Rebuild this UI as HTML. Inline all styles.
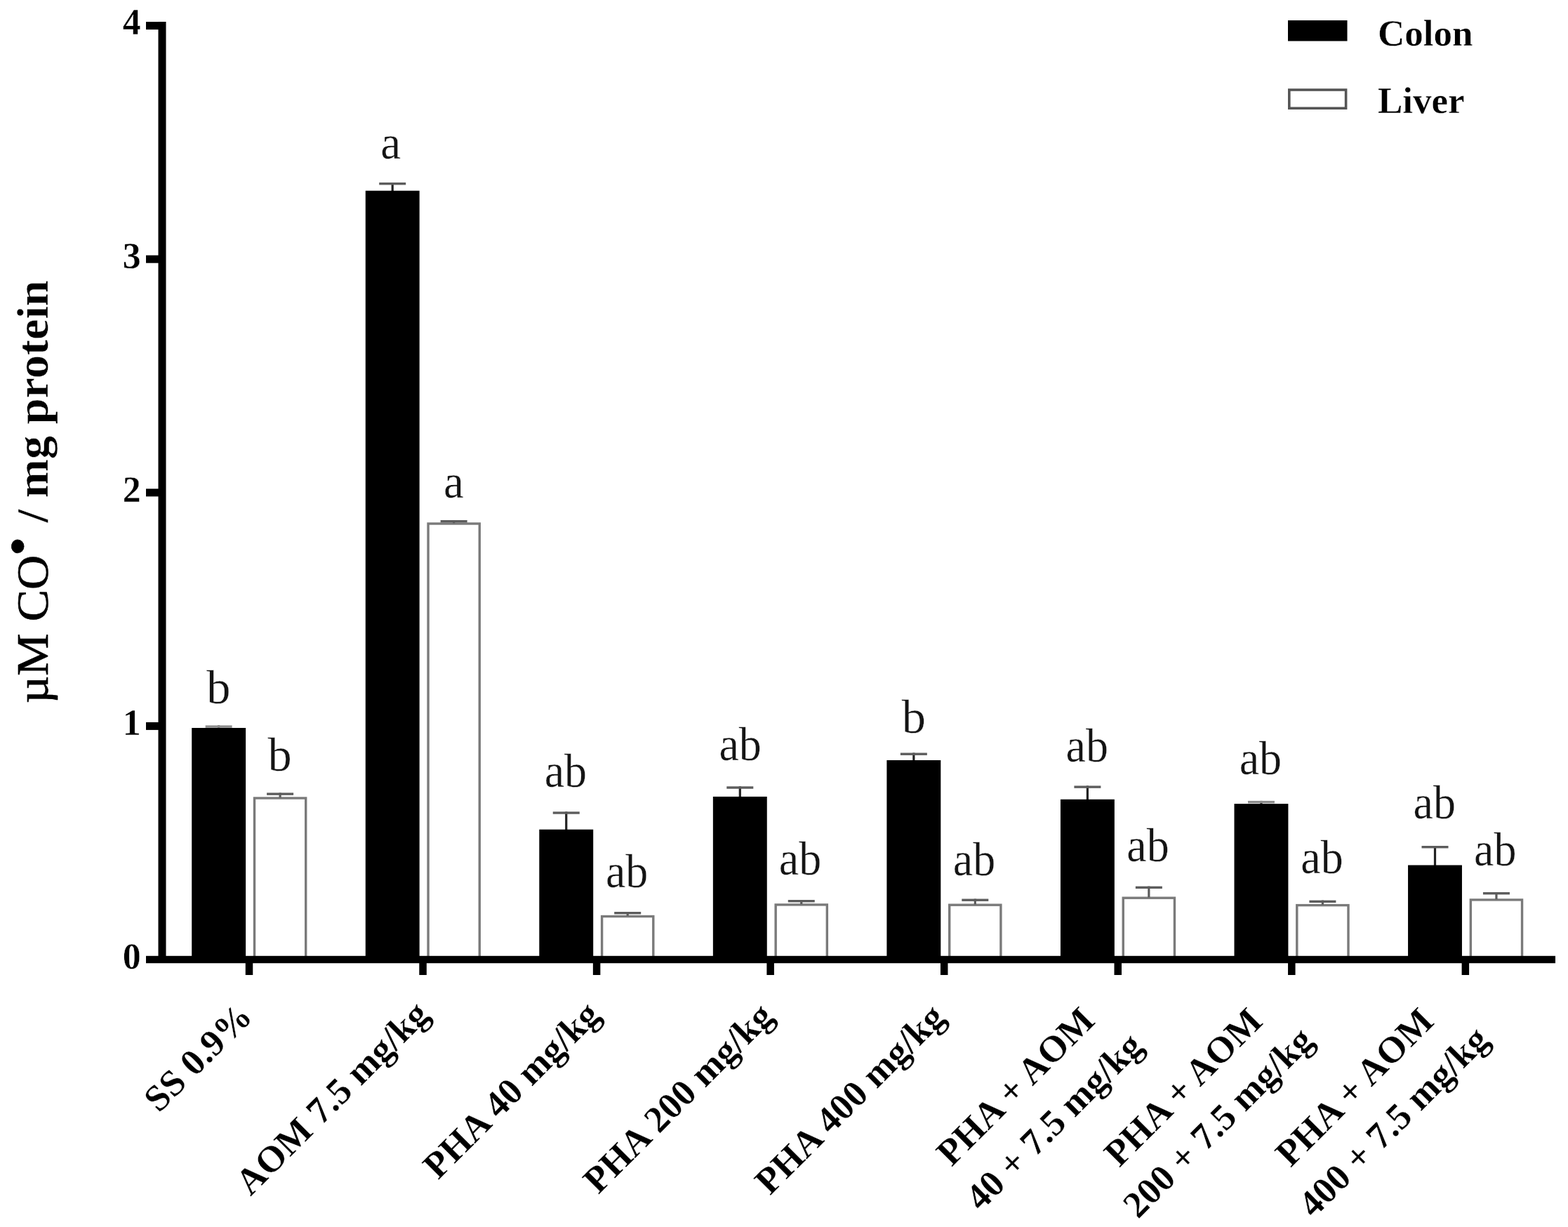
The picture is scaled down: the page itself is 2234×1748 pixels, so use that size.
<!DOCTYPE html>
<html lang="en"><head><meta charset="utf-8"><title>CO radical per mg protein - colon and liver</title>
<style>html,body{margin:0;padding:0;background:#fff;}body{width:2234px;height:1748px;}svg{display:block;}text{font-family:"Liberation Serif","DejaVu Serif",serif;fill:#000;stroke:#fff;stroke-width:0.4px;stroke-linejoin:round;}.n{font-weight:normal;stroke:#000;stroke-width:0.7px;}.b{font-weight:bold;}.t{font-size:53.0px;font-weight:bold;}.l{font-size:67.0px;fill:#141414;stroke-width:0.3px;}.g{font-size:53.0px;font-weight:bold;}.y{font-size:66.3px;font-weight:bold;}.x{font-size:53.0px;font-weight:bold;stroke-width:0.3px;}</style></head><body>
<svg width="2234" height="1748" viewBox="0 0 2234 1748" role="img" aria-label="Bar chart of µM CO radical per mg protein in colon and liver for eight treatment groups">
<rect x="0.00" y="0.00" width="2234.00" height="1748.00" fill="#fff"/>
<g id="bars">
<rect x="362.50" y="1137.00" width="73.20" height="228.80" fill="#fff" stroke="#7a7a7a" stroke-width="3.4"/>
<rect x="397.50" y="1129.40" width="3.20" height="6.90" fill="#5c5c5c"/>
<rect x="380.10" y="1129.40" width="38.00" height="3.40" fill="#5c5c5c"/>
<rect x="310.05" y="1033.40" width="3.20" height="4.60" fill="#222"/>
<rect x="292.65" y="1033.40" width="38.00" height="3.40" fill="#8c8c8c"/>
<rect x="273.20" y="1037.00" width="76.90" height="326.80" fill="#000"/>
<rect x="610.05" y="746.00" width="73.20" height="619.80" fill="#fff" stroke="#7a7a7a" stroke-width="3.4"/>
<rect x="645.05" y="741.00" width="3.20" height="4.30" fill="#5c5c5c"/>
<rect x="627.65" y="741.00" width="38.00" height="3.40" fill="#5c5c5c"/>
<rect x="557.60" y="260.00" width="3.20" height="12.70" fill="#222"/>
<rect x="540.20" y="260.00" width="38.00" height="3.40" fill="#5c5c5c"/>
<rect x="520.75" y="271.70" width="76.90" height="1092.10" fill="#000"/>
<rect x="857.60" y="1305.50" width="73.20" height="60.30" fill="#fff" stroke="#7a7a7a" stroke-width="3.4"/>
<rect x="892.60" y="1299.00" width="3.20" height="5.80" fill="#5c5c5c"/>
<rect x="875.20" y="1299.00" width="38.00" height="3.40" fill="#5c5c5c"/>
<rect x="805.15" y="1156.30" width="3.20" height="26.40" fill="#222"/>
<rect x="787.75" y="1156.30" width="38.00" height="3.40" fill="#5c5c5c"/>
<rect x="768.30" y="1181.70" width="76.90" height="182.10" fill="#000"/>
<rect x="1105.15" y="1288.90" width="73.20" height="76.90" fill="#fff" stroke="#7a7a7a" stroke-width="3.4"/>
<rect x="1140.15" y="1282.00" width="3.20" height="6.20" fill="#5c5c5c"/>
<rect x="1122.75" y="1282.00" width="38.00" height="3.40" fill="#5c5c5c"/>
<rect x="1052.70" y="1120.30" width="3.20" height="15.60" fill="#222"/>
<rect x="1035.30" y="1120.30" width="38.00" height="3.40" fill="#5c5c5c"/>
<rect x="1015.85" y="1134.90" width="76.90" height="228.90" fill="#000"/>
<rect x="1352.70" y="1289.20" width="73.20" height="76.60" fill="#fff" stroke="#7a7a7a" stroke-width="3.4"/>
<rect x="1387.70" y="1280.50" width="3.20" height="8.00" fill="#5c5c5c"/>
<rect x="1370.30" y="1280.50" width="38.00" height="3.40" fill="#5c5c5c"/>
<rect x="1300.25" y="1072.50" width="3.20" height="11.50" fill="#222"/>
<rect x="1282.85" y="1072.50" width="38.00" height="3.40" fill="#5c5c5c"/>
<rect x="1263.40" y="1083.00" width="76.90" height="280.80" fill="#000"/>
<rect x="1600.25" y="1279.20" width="73.20" height="86.60" fill="#fff" stroke="#7a7a7a" stroke-width="3.4"/>
<rect x="1635.25" y="1262.60" width="3.20" height="15.90" fill="#5c5c5c"/>
<rect x="1617.85" y="1262.60" width="38.00" height="3.40" fill="#5c5c5c"/>
<rect x="1547.80" y="1119.40" width="3.20" height="20.40" fill="#222"/>
<rect x="1530.40" y="1119.40" width="38.00" height="3.40" fill="#5c5c5c"/>
<rect x="1510.95" y="1138.80" width="76.90" height="225.00" fill="#000"/>
<rect x="1847.80" y="1289.60" width="73.20" height="76.20" fill="#fff" stroke="#7a7a7a" stroke-width="3.4"/>
<rect x="1882.80" y="1282.60" width="3.20" height="6.30" fill="#5c5c5c"/>
<rect x="1865.40" y="1282.60" width="38.00" height="3.40" fill="#5c5c5c"/>
<rect x="1795.35" y="1140.90" width="3.20" height="5.20" fill="#222"/>
<rect x="1777.95" y="1140.90" width="38.00" height="3.40" fill="#8c8c8c"/>
<rect x="1758.50" y="1145.10" width="76.90" height="218.70" fill="#000"/>
<rect x="2095.35" y="1281.90" width="73.20" height="83.90" fill="#fff" stroke="#7a7a7a" stroke-width="3.4"/>
<rect x="2130.35" y="1271.00" width="3.20" height="10.20" fill="#5c5c5c"/>
<rect x="2112.95" y="1271.00" width="38.00" height="3.40" fill="#5c5c5c"/>
<rect x="2042.90" y="1205.00" width="3.20" height="28.50" fill="#222"/>
<rect x="2025.50" y="1205.00" width="38.00" height="3.40" fill="#5c5c5c"/>
<rect x="2006.05" y="1232.50" width="76.90" height="131.30" fill="#000"/>
</g>
<g id="axes">
<rect x="225.50" y="31.00" width="11.00" height="1331.80" fill="#000"/>
<rect x="208.00" y="1361.80" width="2008.00" height="10.40" fill="#000"/>
<rect x="208.00" y="31.10" width="18.50" height="11.00" fill="#000"/>
<rect x="208.00" y="363.70" width="18.50" height="11.00" fill="#000"/>
<rect x="208.00" y="696.30" width="18.50" height="11.00" fill="#000"/>
<rect x="208.00" y="1028.90" width="18.50" height="11.00" fill="#000"/>
<rect x="349.75" y="1371.20" width="10.50" height="17.80" fill="#000"/>
<rect x="597.30" y="1371.20" width="10.50" height="17.80" fill="#000"/>
<rect x="844.85" y="1371.20" width="10.50" height="17.80" fill="#000"/>
<rect x="1092.40" y="1371.20" width="10.50" height="17.80" fill="#000"/>
<rect x="1339.95" y="1371.20" width="10.50" height="17.80" fill="#000"/>
<rect x="1587.50" y="1371.20" width="10.50" height="17.80" fill="#000"/>
<rect x="1835.05" y="1371.20" width="10.50" height="17.80" fill="#000"/>
<rect x="2082.60" y="1371.20" width="10.50" height="17.80" fill="#000"/>
</g>
<g id="yticks">
<text class="t" transform="translate(200.8,49.40) scale(0.98,1)" text-anchor="end">4</text>
<text class="t" transform="translate(200.8,382.00) scale(0.98,1)" text-anchor="end">3</text>
<text class="t" transform="translate(200.8,714.60) scale(0.98,1)" text-anchor="end">2</text>
<text class="t" transform="translate(200.8,1047.20) scale(0.98,1)" text-anchor="end">1</text>
<text class="t" transform="translate(200.8,1379.80) scale(0.98,1)" text-anchor="end">0</text>
</g>
<g id="letters">
<text class="l" transform="translate(311.30,1002.00) scale(1.02,1)" text-anchor="middle">b</text>
<text class="l" transform="translate(556.60,225.70) scale(0.97,1)" text-anchor="middle">a</text>
<text class="l" transform="translate(805.90,1121.00) scale(0.955,1)" text-anchor="middle">ab</text>
<text class="l" transform="translate(1054.60,1083.00) scale(0.955,1)" text-anchor="middle">ab</text>
<text class="l" transform="translate(1301.70,1043.60) scale(1.02,1)" text-anchor="middle">b</text>
<text class="l" transform="translate(1548.70,1085.00) scale(0.955,1)" text-anchor="middle">ab</text>
<text class="l" transform="translate(1795.90,1103.30) scale(0.955,1)" text-anchor="middle">ab</text>
<text class="l" transform="translate(2043.80,1166.00) scale(0.955,1)" text-anchor="middle">ab</text>
<text class="l" transform="translate(398.50,1097.80) scale(1.02,1)" text-anchor="middle">b</text>
<text class="l" transform="translate(646.40,709.00) scale(0.97,1)" text-anchor="middle">a</text>
<text class="l" transform="translate(893.10,1264.00) scale(0.955,1)" text-anchor="middle">ab</text>
<text class="l" transform="translate(1140.00,1245.80) scale(0.955,1)" text-anchor="middle">ab</text>
<text class="l" transform="translate(1388.00,1246.70) scale(0.955,1)" text-anchor="middle">ab</text>
<text class="l" transform="translate(1635.50,1226.50) scale(0.955,1)" text-anchor="middle">ab</text>
<text class="l" transform="translate(1883.50,1243.50) scale(0.955,1)" text-anchor="middle">ab</text>
<text class="l" transform="translate(2130.30,1232.70) scale(0.955,1)" text-anchor="middle">ab</text>
</g>
<g id="legend">
<rect x="1835.00" y="29.00" width="84.50" height="29.50" fill="#000"/>
<rect x="1836.8" y="128" width="80.8" height="26.2" fill="#fff" stroke="#555" stroke-width="3.6"/>
<text class="g" x="1963" y="64.5">Colon</text>
<text class="g" x="1963" y="160.5">Liver</text>
</g>
<text class="y" transform="translate(68.2,1002.0) scale(0.94,1) rotate(-90)"><tspan class="n" font-size="68">µM CO</tspan><tspan class="n" dy="-33" dx="-0.5" font-size="44">●</tspan><tspan x="241.2" dy="33"> / mg protein</tspan></text>
<g id="xlabels">
<text class="x" transform="translate(362,1451) rotate(-45)" text-anchor="end">SS 0.9%</text>
<text class="x" transform="translate(614,1448) rotate(-45)" text-anchor="end">AOM 7.5 mg/kg</text>
<text class="x" transform="translate(857.5,1448.5) rotate(-45)" text-anchor="end">PHA 40 mg/kg</text>
<text class="x" transform="translate(1104.5,1450.5) rotate(-45)" text-anchor="end">PHA 200 mg/kg</text>
<text class="x" transform="translate(1349,1452) rotate(-45)" text-anchor="end">PHA 400 mg/kg</text>
<text class="x" transform="translate(1562.5,1456.5) rotate(-45)" text-anchor="end">PHA + AOM</text>
<text class="x" transform="translate(1631,1493) rotate(-45)" text-anchor="end">40 + 7.5 mg/kg</text>
<text class="x" transform="translate(1801.3,1457.7) rotate(-45)" text-anchor="end">PHA + AOM</text>
<text class="x" transform="translate(1874,1485) rotate(-45)" text-anchor="end">200 + 7.5 mg/kg</text>
<text class="x" transform="translate(2045.4,1457.7) rotate(-45)" text-anchor="end">PHA + AOM</text>
<text class="x" transform="translate(2124,1484) rotate(-45)" text-anchor="end">400 + 7.5 mg/kg</text>
</g>
</svg></body></html>
